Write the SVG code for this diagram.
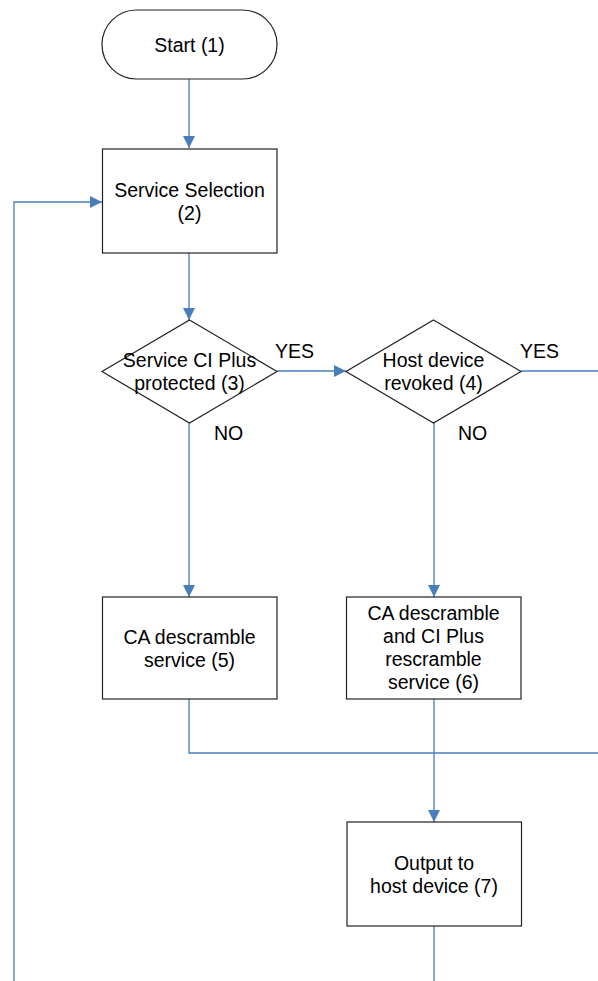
<svg xmlns="http://www.w3.org/2000/svg" width="598" height="981" viewBox="0 0 598 981">
<defs>
<style>
.shape{fill:#fff;stroke:#222;stroke-width:1.2}
.conn{fill:none;stroke:#4a7ebb;stroke-width:1.3}
text{font-family:"Liberation Sans",Arial,sans-serif;font-size:19.5px;fill:#000;text-anchor:middle}
.lbl{text-anchor:start}
</style>
<marker id="arr" viewBox="0 0 10 10" refX="10" refY="5" markerWidth="12" markerHeight="12" markerUnits="userSpaceOnUse" orient="auto">
<path d="M0,0 L10,5 L0,10 z" fill="#4a7ebb"/>
</marker>
</defs>
<rect width="598" height="981" fill="#fff"/>
<g id="connectors">
<path class="conn" d="M189,79 V148" marker-end="url(#arr)"/>
<path class="conn" d="M189,253 V320" marker-end="url(#arr)"/>
<path class="conn" d="M277,371 H346" marker-end="url(#arr)"/>
<path class="conn" d="M521,371 H598"/>
<path class="conn" d="M189,423 V597" marker-end="url(#arr)"/>
<path class="conn" d="M434,423 V597" marker-end="url(#arr)"/>
<path class="conn" d="M189,699 V753 H598"/>
<path class="conn" d="M434,699 V822" marker-end="url(#arr)"/>
<path class="conn" d="M434,926 V981"/>
<path class="conn" d="M14,981 V202 H102" marker-end="url(#arr)"/>
<text class="lbl" x="275" y="358">YES</text>
<text class="lbl" x="520" y="358">YES</text>
<text class="lbl" x="214" y="440">NO</text>
<text class="lbl" x="458" y="440">NO</text>
</g>
<g id="n1">
<rect class="shape" x="102" y="10" width="175" height="69" rx="34.5"/>
<text x="189.5" y="52">Start (1)</text>
</g>
<g id="n2">
<rect class="shape" x="102.5" y="149" width="174.5" height="104"/>
<text x="189.5" y="197">Service Selection</text>
<text x="189.5" y="220">(2)</text>
</g>
<g id="n3">
<polygon class="shape" points="189.5,320 277,371.5 189.5,423 102,371.5"/>
<text x="189.5" y="367">Service CI Plus</text>
<text x="189.5" y="390">protected (3)</text>
</g>
<g id="n4">
<polygon class="shape" points="433.5,320 521,371.5 433.5,423 346,371.5"/>
<text x="433.5" y="367">Host device</text>
<text x="433.5" y="390">revoked (4)</text>
</g>
<g id="n5">
<rect class="shape" x="102.5" y="597" width="174.5" height="102"/>
<text x="189.5" y="644">CA descramble</text>
<text x="189.5" y="667">service (5)</text>
</g>
<g id="n6">
<rect class="shape" x="346.5" y="597" width="174.5" height="102"/>
<text x="433.5" y="620">CA descramble</text>
<text x="433.5" y="643">and CI Plus</text>
<text x="433.5" y="666">rescramble</text>
<text x="433.5" y="689">service (6)</text>
</g>
<g id="n7">
<rect class="shape" x="347" y="822" width="174.5" height="104"/>
<text x="434" y="870">Output to</text>
<text x="434" y="893">host device (7)</text>
</g>
</svg>
